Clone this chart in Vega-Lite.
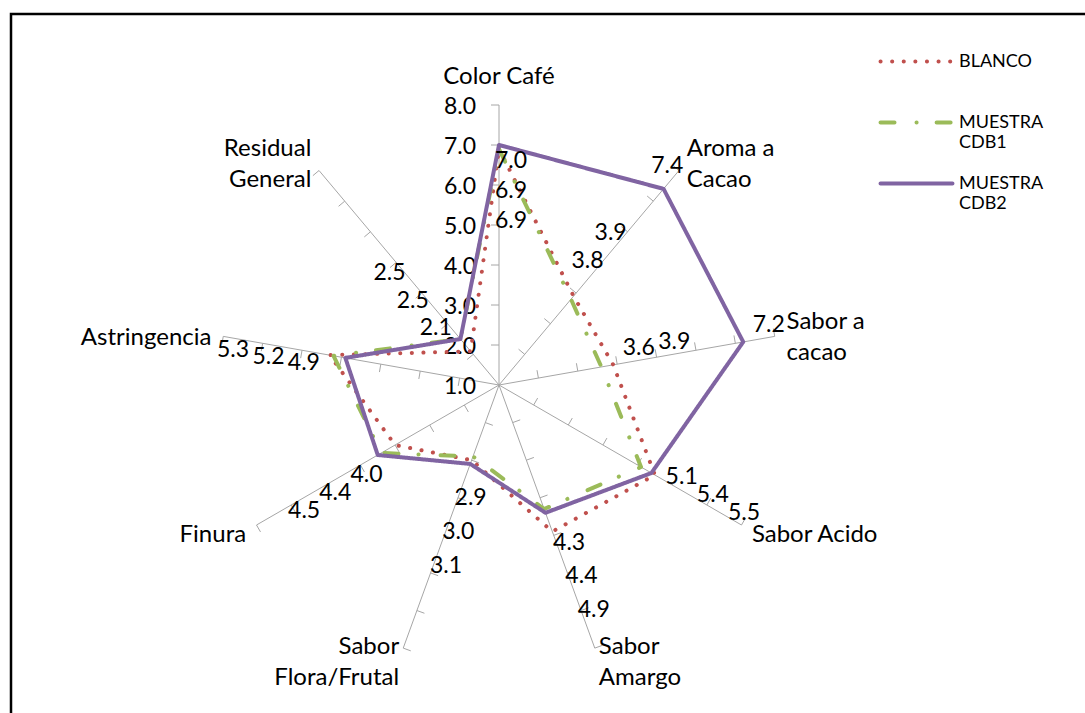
{
  "$schema": "https://vega.github.io/schema/vega-lite/v6.json",
  "width": 1085,
  "height": 713,
  "autosize": {"type": "fit", "contains": "padding"},
  "padding": {"left": 11, "top": 14, "right": -6, "bottom": -6},
  "background": "#ffffff",
  "config": {
    "view": {"stroke": "#000000", "strokeWidth": 2.5},
    "text": {"font": "Lato", "fontSize": 23, "color": "#000000"},
    "legend": {
      "orient": "none",
      "legendX": 874,
      "legendY": 16,
      "symbolType": "M-1.22,0H1.22",
      "symbolSize": 3481,
      "symbolStrokeWidth": 4,
      "labelFont": "Lato",
      "labelFontSize": 18,
      "labelColor": "#000000",
      "labelOffset": 11,
      "labelLimit": 0,
      "rowPadding": 0,
      "padding": 0
    }
  },
  "datasets": {
    "atributos": [
      {"atributo": "Color Café", "etiqueta": "Color Café", "i": 0, "lineas": 1},
      {"atributo": "Aroma a Cacao", "etiqueta": "Aroma  a\nCacao", "i": 1, "lineas": 2},
      {"atributo": "Sabor a cacao", "etiqueta": "Sabor a\ncacao", "i": 2, "lineas": 2},
      {"atributo": "Sabor Acido", "etiqueta": "Sabor Acido", "i": 3, "lineas": 1},
      {"atributo": "Sabor Amargo", "etiqueta": "Sabor\nAmargo", "i": 4, "lineas": 2},
      {"atributo": "Sabor Flora/Frutal", "etiqueta": "Sabor\nFlora/Frutal", "i": 5, "lineas": 2},
      {"atributo": "Finura", "etiqueta": "Finura", "i": 6, "lineas": 1},
      {"atributo": "Astringencia", "etiqueta": "Astringencia", "i": 7, "lineas": 1},
      {"atributo": "Residual General", "etiqueta": "Residual\nGeneral", "i": 8, "lineas": 2}
    ],
    "escala": [{"v": 1}, {"v": 2}, {"v": 3}, {"v": 4}, {"v": 5}, {"v": 6}, {"v": 7}, {"v": 8}],
    "rejilla": [{"nivel": [2, 3, 4, 5, 6, 7, 8], "eje": [0, 1, 2, 3, 4, 5, 6, 7, 8]}],
    "puntajes": [
      {"serie": "BLANCO", "atributo": "Color Café", "valor": 6.9},
      {"serie": "BLANCO", "atributo": "Aroma a Cacao", "valor": 3.9},
      {"serie": "BLANCO", "atributo": "Sabor a cacao", "valor": 3.9},
      {"serie": "BLANCO", "atributo": "Sabor Acido", "valor": 5.5},
      {"serie": "BLANCO", "atributo": "Sabor Amargo", "valor": 4.9},
      {"serie": "BLANCO", "atributo": "Sabor Flora/Frutal", "valor": 3.0},
      {"serie": "BLANCO", "atributo": "Finura", "valor": 4.0},
      {"serie": "BLANCO", "atributo": "Astringencia", "valor": 5.3},
      {"serie": "BLANCO", "atributo": "Residual General", "valor": 2.1},
      {"serie": "MUESTRA CDB1", "atributo": "Color Café", "valor": 6.9},
      {"serie": "MUESTRA CDB1", "atributo": "Aroma a Cacao", "valor": 3.8},
      {"serie": "MUESTRA CDB1", "atributo": "Sabor a cacao", "valor": 3.6},
      {"serie": "MUESTRA CDB1", "atributo": "Sabor Acido", "valor": 5.1},
      {"serie": "MUESTRA CDB1", "atributo": "Sabor Amargo", "valor": 4.3},
      {"serie": "MUESTRA CDB1", "atributo": "Sabor Flora/Frutal", "valor": 2.9},
      {"serie": "MUESTRA CDB1", "atributo": "Finura", "valor": 4.4},
      {"serie": "MUESTRA CDB1", "atributo": "Astringencia", "valor": 5.2},
      {"serie": "MUESTRA CDB1", "atributo": "Residual General", "valor": 2.5},
      {"serie": "MUESTRA CDB2", "atributo": "Color Café", "valor": 7.0},
      {"serie": "MUESTRA CDB2", "atributo": "Aroma a Cacao", "valor": 7.4},
      {"serie": "MUESTRA CDB2", "atributo": "Sabor a cacao", "valor": 7.2},
      {"serie": "MUESTRA CDB2", "atributo": "Sabor Acido", "valor": 5.4},
      {"serie": "MUESTRA CDB2", "atributo": "Sabor Amargo", "valor": 4.4},
      {"serie": "MUESTRA CDB2", "atributo": "Sabor Flora/Frutal", "valor": 3.1},
      {"serie": "MUESTRA CDB2", "atributo": "Finura", "valor": 4.5},
      {"serie": "MUESTRA CDB2", "atributo": "Astringencia", "valor": 4.9},
      {"serie": "MUESTRA CDB2", "atributo": "Residual General", "valor": 2.5}
    ]
  },
  "encoding": {
    "x": {"field": "x", "type": "quantitative", "scale": {"domain": [-12.2, 14.8], "nice": false, "zero": false}, "axis": null},
    "y": {"field": "y", "type": "quantitative", "scale": {"domain": [-8.35, 9.275], "nice": false, "zero": false}, "axis": null}
  },
  "layer": [
    {
      "data": {"name": "atributos"},
      "transform": [
        {"calculate": "datum.i * 2 * PI / 9", "as": "ang"},
        {"calculate": "0", "as": "x"},
        {"calculate": "0", "as": "y"},
        {"calculate": "7 * sin(datum.ang)", "as": "xe"},
        {"calculate": "7 * cos(datum.ang)", "as": "ye"}
      ],
      "mark": {"type": "rule", "color": "#A6A6A6", "strokeWidth": 1},
      "encoding": {"x2": {"field": "xe"}, "y2": {"field": "ye"}}
    },
    {
      "data": {"name": "rejilla"},
      "transform": [
        {"flatten": ["nivel"]},
        {"flatten": ["eje"]},
        {"calculate": "datum.eje * 2 * PI / 9", "as": "ang"},
        {"calculate": "(datum.nivel - 1) * sin(datum.ang)", "as": "x"},
        {"calculate": "(datum.nivel - 1) * cos(datum.ang)", "as": "y"},
        {"calculate": "datum.x - 0.2 * cos(datum.ang)", "as": "xt"},
        {"calculate": "datum.y + 0.2 * sin(datum.ang)", "as": "yt"}
      ],
      "mark": {"type": "rule", "color": "#A6A6A6", "strokeWidth": 1},
      "encoding": {"x2": {"field": "xt"}, "y2": {"field": "yt"}}
    },
    {
      "data": {"name": "escala"},
      "transform": [
        {"calculate": "0", "as": "x"},
        {"calculate": "datum.v - 1", "as": "y"}
      ],
      "mark": {"type": "text", "align": "right", "baseline": "middle", "dx": -23, "dy": 2},
      "encoding": {"text": {"field": "v", "type": "quantitative", "format": ".1f"}}
    },
    {
      "data": {"name": "puntajes"},
      "transform": [
        {"lookup": "atributo", "from": {"data": {"name": "atributos"}, "key": "atributo", "fields": ["i"]}},
        {"calculate": "datum.i * 2 * PI / 9", "as": "ang"},
        {"calculate": "(datum.valor - 1) * sin(datum.ang)", "as": "x"},
        {"calculate": "(datum.valor - 1) * cos(datum.ang)", "as": "y"}
      ],
      "mark": {"type": "line", "interpolate": "linear-closed", "strokeWidth": 4, "strokeCap": "round", "strokeJoin": "round"},
      "encoding": {
        "order": {"field": "i", "type": "quantitative"},
        "color": {
          "field": "serie", "type": "nominal",
          "scale": {"domain": ["BLANCO", "MUESTRA CDB1", "MUESTRA CDB2"], "range": ["#C0504D", "#9BBB59", "#8064A2"]},
          "legend": {"title": null, "labelExpr": "datum.label == 'BLANCO' ? [datum.label, ' '] : split(datum.label, ' ')",
            "encode": {"symbols": {"update": {"strokeCap": {"value": "round"}}}, "labels": {"update": {"lineHeight": {"value": 20}}}}}
        },
        "strokeDash": {
          "field": "serie", "type": "nominal",
          "scale": {"domain": ["BLANCO", "MUESTRA CDB1", "MUESTRA CDB2"], "range": [[0.1, 11.5], [14, 22, 0.1, 20], [1, 0]]},
          "legend": {"title": null, "labelExpr": "datum.label == 'BLANCO' ? [datum.label, ' '] : split(datum.label, ' ')",
            "encode": {"symbols": {"update": {"strokeCap": {"value": "round"}}}, "labels": {"update": {"lineHeight": {"value": 20}}}}}
        }
      }
    },
    {
      "data": {"name": "puntajes"},
      "transform": [
        {"lookup": "atributo", "from": {"data": {"name": "atributos"}, "key": "atributo", "fields": ["i"]}},
        {"calculate": "datum.i * 2 * PI / 9", "as": "ang"},
        {"calculate": "datum.i == 0 ? -1 : 1", "as": "sg"},
        {"calculate": "datum.sg < 0 ? 0.75 : 0.9", "as": "sp"},
        {"calculate": "datum.sg < 0 ? 0.4 : 1.0", "as": "c0"},
        {"calculate": "datum.sg * (datum.valor - 1)", "as": "w"},
        {"window": [{"op": "row_number", "as": "rn"}], "groupby": ["atributo"], "sort": [{"field": "w", "order": "ascending"}, {"field": "serie", "order": "ascending"}]},
        {"calculate": "datum.w - (datum.rn - 1) * datum.sp", "as": "vj"},
        {"window": [{"op": "max", "field": "vj", "as": "cm"}], "groupby": ["atributo"], "sort": [{"field": "w", "order": "ascending"}, {"field": "serie", "order": "ascending"}], "frame": [null, 0]},
        {"calculate": "datum.sg * min((datum.rn - 1) * datum.sp + datum.c0 + datum.cm, 6.9)", "as": "rl"},
        {"calculate": "datum.sg * -0.3", "as": "bb"},
        {"calculate": "datum.rl * sin(datum.ang) + datum.bb * cos(datum.ang)", "as": "x"},
        {"calculate": "datum.rl * cos(datum.ang) - datum.bb * sin(datum.ang)", "as": "y"}
      ],
      "mark": {"type": "text", "align": "center", "baseline": "middle"},
      "encoding": {"text": {"field": "valor", "type": "quantitative", "format": ".1f"}}
    },
    {
      "data": {"name": "atributos"},
      "transform": [
        {"filter": "datum.i == 0"},
        {"calculate": "datum.i * 2 * PI / 9", "as": "ang"},
        {"calculate": "7.3 * sin(datum.ang)", "as": "x"},
        {"calculate": "7.3 * cos(datum.ang)", "as": "y"}
      ],
      "mark": {"type": "text", "align": "center", "baseline": "middle", "dy": -16, "fontSize": 24, "lineBreak": "\n", "lineHeight": 31},
      "encoding": {"text": {"field": "etiqueta"}}
    },
    {
      "data": {"name": "atributos"},
      "transform": [
        {"filter": "datum.i >= 1 && datum.i <= 4 && datum.lineas == 2"},
        {"calculate": "datum.i * 2 * PI / 9", "as": "ang"},
        {"calculate": "7.3 * sin(datum.ang)", "as": "x"},
        {"calculate": "7.3 * cos(datum.ang)", "as": "y"}
      ],
      "mark": {"type": "text", "align": "left", "baseline": "middle", "dy": -12, "fontSize": 24, "lineBreak": "\n", "lineHeight": 31},
      "encoding": {"text": {"field": "etiqueta"}}
    },
    {
      "data": {"name": "atributos"},
      "transform": [
        {"filter": "datum.i >= 1 && datum.i <= 4 && datum.lineas == 1"},
        {"calculate": "datum.i * 2 * PI / 9", "as": "ang"},
        {"calculate": "7.3 * sin(datum.ang)", "as": "x"},
        {"calculate": "7.3 * cos(datum.ang)", "as": "y"}
      ],
      "mark": {"type": "text", "align": "left", "baseline": "middle", "dy": 4, "fontSize": 24},
      "encoding": {"text": {"field": "etiqueta"}}
    },
    {
      "data": {"name": "atributos"},
      "transform": [
        {"filter": "datum.i >= 5 && datum.lineas == 2"},
        {"calculate": "datum.i * 2 * PI / 9", "as": "ang"},
        {"calculate": "7.3 * sin(datum.ang)", "as": "x"},
        {"calculate": "7.3 * cos(datum.ang)", "as": "y"}
      ],
      "mark": {"type": "text", "align": "right", "baseline": "middle", "dy": -12, "fontSize": 24, "lineBreak": "\n", "lineHeight": 31},
      "encoding": {"text": {"field": "etiqueta"}}
    },
    {
      "data": {"name": "atributos"},
      "transform": [
        {"filter": "datum.i >= 5 && datum.lineas == 1"},
        {"calculate": "datum.i * 2 * PI / 9", "as": "ang"},
        {"calculate": "7.3 * sin(datum.ang)", "as": "x"},
        {"calculate": "7.3 * cos(datum.ang)", "as": "y"}
      ],
      "mark": {"type": "text", "align": "right", "baseline": "middle", "dy": 4, "fontSize": 24},
      "encoding": {"text": {"field": "etiqueta"}}
    }
  ]
}
